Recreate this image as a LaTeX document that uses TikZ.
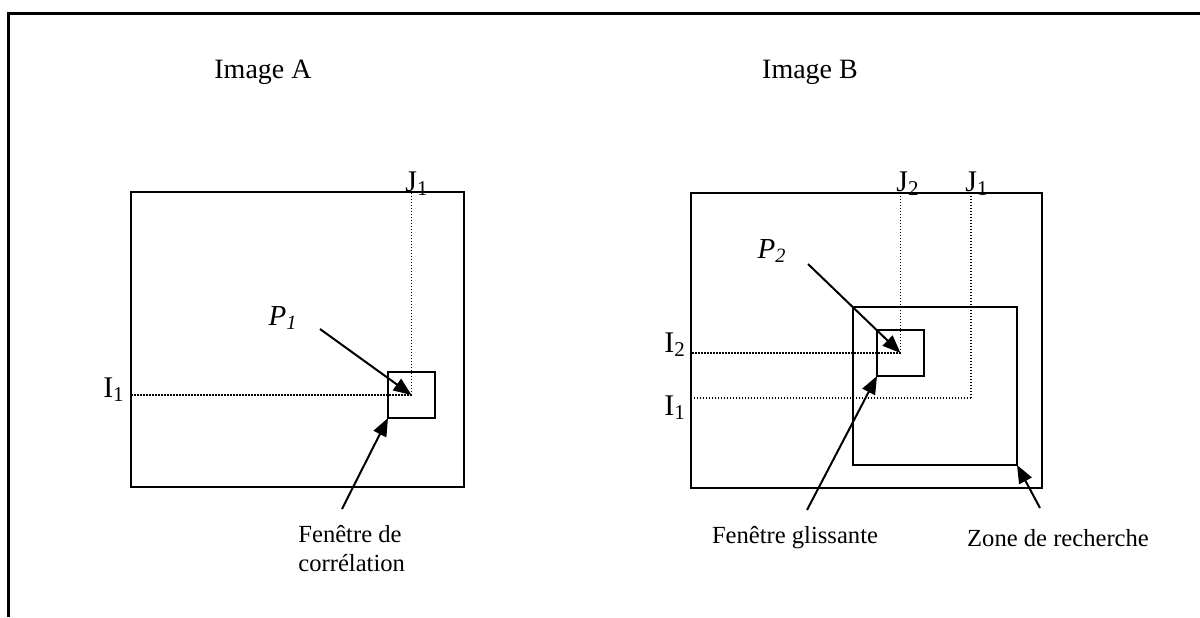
\documentclass[tikz,border=0pt]{standalone}
\usepackage{fontspec}
\setmainfont{Liberation Serif}
\usetikzlibrary{arrows.meta,positioning,calc}

\begin{document}
\begin{tikzpicture}[x=0.5pt,y=-0.5pt,
    frameline/.style={line width=1.5pt},
    box/.style={draw,line width=1pt,inner sep=0pt,outer sep=0pt},
    guide/.style={line width=0.8pt,dash pattern=on 0.6pt off 0.9pt},
    pointer/.style={-{Triangle[length=9pt,width=7pt]},line width=1pt},
    title/.style={font=\fontsize{14}{17}\selectfont,inner sep=0pt},
    idx/.style={font=\fontsize{15}{17}\selectfont,inner sep=0pt},
    lbl/.style={font=\fontsize{12.3}{14.5}\selectfont,inner sep=0pt},
    ptlbl/.style={font=\fontsize{14.5}{17}\selectfont,inner sep=0pt}
  ]
    \useasboundingbox (0,0) rectangle (1200,617);
    \draw[frameline] (8.5,617) -- (8.5,13.5) -- (1200,13.5);

    % image A
    \node[title] (titleA) at (263,72) {Image A};
    \node[box,minimum width=166.5pt,minimum height=147.5pt] (imgA) at (297.5,339.5) {};
    \node[box,minimum width=23.5pt,minimum height=23pt] (winA) at (411.5,395) {};
    \draw[guide] (winA.center) -- (winA.center |- imgA.north);
    \draw[guide] (winA.center) -- (winA.center -| imgA.west);
    \node[idx] (jA) at (417,184) {J\textsubscript{1}};
    \node[idx] (iA) at (114,390) {I\textsubscript{1}};
    \node[ptlbl] (pA) at (283,318) {\textit{P}\textsubscript{\textit{1}}};
    \coordinate (pAtail) at (320,329);
    \coordinate (corrtail) at (342,509);
    \draw[pointer] (pAtail) -- (winA.center);
    \draw[pointer] (corrtail) -- (winA.south west);
    \node[lbl,align=left,anchor=north west] (corr) at (298,525) {Fenêtre de\\corrélation};

    % image B
    \node[title] (titleB) at (810,72) {Image B};
    \node[box,minimum width=175.5pt,minimum height=147.5pt] (imgB) at (866.5,340.5) {};
    \node[box,minimum width=82pt,minimum height=79pt] (zone) at (935,386) {};
    \node[box,minimum width=23.5pt,minimum height=23pt] (winB) at (900.5,353) {};
    \coordinate (origB) at (971,398);
    \draw[guide] (winB.center) -- (winB.center |- imgB.north);
    \draw[guide] (winB.center) -- (winB.center -| imgB.west);
    \draw[guide] (origB) -- (origB |- imgB.north);
    \draw[guide] (origB) -- (origB -| imgB.west);
    \node[idx] (jB2) at (908,184) {J\textsubscript{2}};
    \node[idx] (jB1) at (977,184) {J\textsubscript{1}};
    \node[idx] (iB2) at (675,345) {I\textsubscript{2}};
    \node[idx] (iB1) at (675,408) {I\textsubscript{1}};
    \node[ptlbl] (pB) at (772,251) {\textit{P}\textsubscript{\textit{2}}};
    \coordinate (pBtail) at (808,264);
    \coordinate (glisstail) at (807,510);
    \coordinate (zonetail) at (1040,508);
    \draw[pointer] (pBtail) -- (winB.center);
    \draw[pointer] (glisstail) -- (winB.south west);
    \draw[pointer] (zonetail) -- (zone.south east);
    \node[lbl] (gliss) at (795,538) {Fenêtre glissante};
    \node[lbl] (search) at (1058,538) {Zone de recherche};
\end{tikzpicture}
\end{document}
